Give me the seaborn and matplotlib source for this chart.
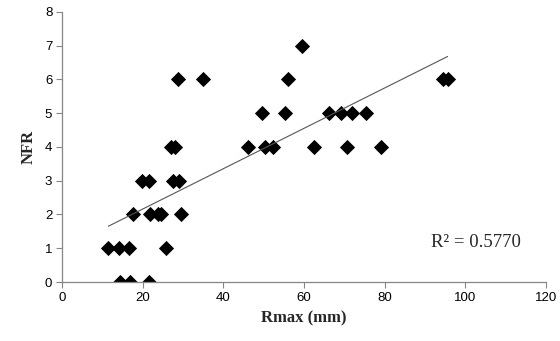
import numpy as np
import pandas as pd
import matplotlib
matplotlib.use("Agg")
import matplotlib.pyplot as plt
import seaborn as sns

# Rmax (mm) vs NFR
rmax = [14.5, 16.9, 21.6,
        11.5, 14.2, 16.6, 25.8,
        17.7, 21.8, 23.9, 24.5, 29.4,
        19.9, 21.6, 27.6, 29.1,
        27.0, 28.0, 46.2, 50.3, 52.4, 62.6, 70.7, 79.1,
        49.7, 55.3, 66.2, 69.1, 72.0, 75.3,
        28.8, 35.0, 56.1, 94.4, 95.6,
        59.4]
nfr = [0, 0, 0,
       1, 1, 1, 1,
       2, 2, 2, 2, 2,
       3, 3, 3, 3,
       4, 4, 4, 4, 4, 4, 4, 4,
       5, 5, 5, 5, 5, 5,
       6, 6, 6, 6, 6,
       7]
r2_label = "R\u00b2 = 0.5770"

df = pd.DataFrame({"Rmax": rmax, "NFR": nfr})

sns.set_style("white")
plt.rcParams["font.family"] = ["Liberation Sans", "DejaVu Sans"]

fig = plt.figure(figsize=(5.6, 3.41), dpi=100)
ax = fig.add_axes([0.1107, 0.173, 0.8643, 0.792])

sns.scatterplot(data=df, x="Rmax", y="NFR", marker="D", s=60, color="black",
                edgecolor="black", linewidth=0, ax=ax)
sns.regplot(data=df, x="Rmax", y="NFR", scatter=False, ci=None, truncate=True,
            line_kws={"color": "#555555", "linewidth": 0.8}, ax=ax)

ax.set_xlim(0, 120)
ax.set_ylim(0, 8)
ax.set_xticks(range(0, 121, 20))
ax.set_yticks(range(0, 9, 1))
ax.tick_params(axis="both", labelsize=9.5, colors="#333333", direction="out",
               length=4, width=0.8, left=True, bottom=True, pad=3)
for lbl in ax.get_xticklabels() + ax.get_yticklabels():
    lbl.set_color("black")
for side in ["top", "right"]:
    ax.spines[side].set_visible(False)
for side in ["left", "bottom"]:
    ax.spines[side].set_color("#868686")
    ax.spines[side].set_linewidth(0.9)
ax.tick_params(color="#868686")

ax.set_xlabel("Rmax (mm)", fontsize=12, fontweight="bold",
              family="Liberation Serif", labelpad=5)
ax.set_ylabel("NFR", fontsize=12, fontweight="bold",
              family="Liberation Serif", labelpad=6)

ax.text(102.6, 1.16, r2_label, fontsize=13.5, family="Liberation Serif",
        ha="center", va="center")

fig.savefig("out.png", dpi=100)
